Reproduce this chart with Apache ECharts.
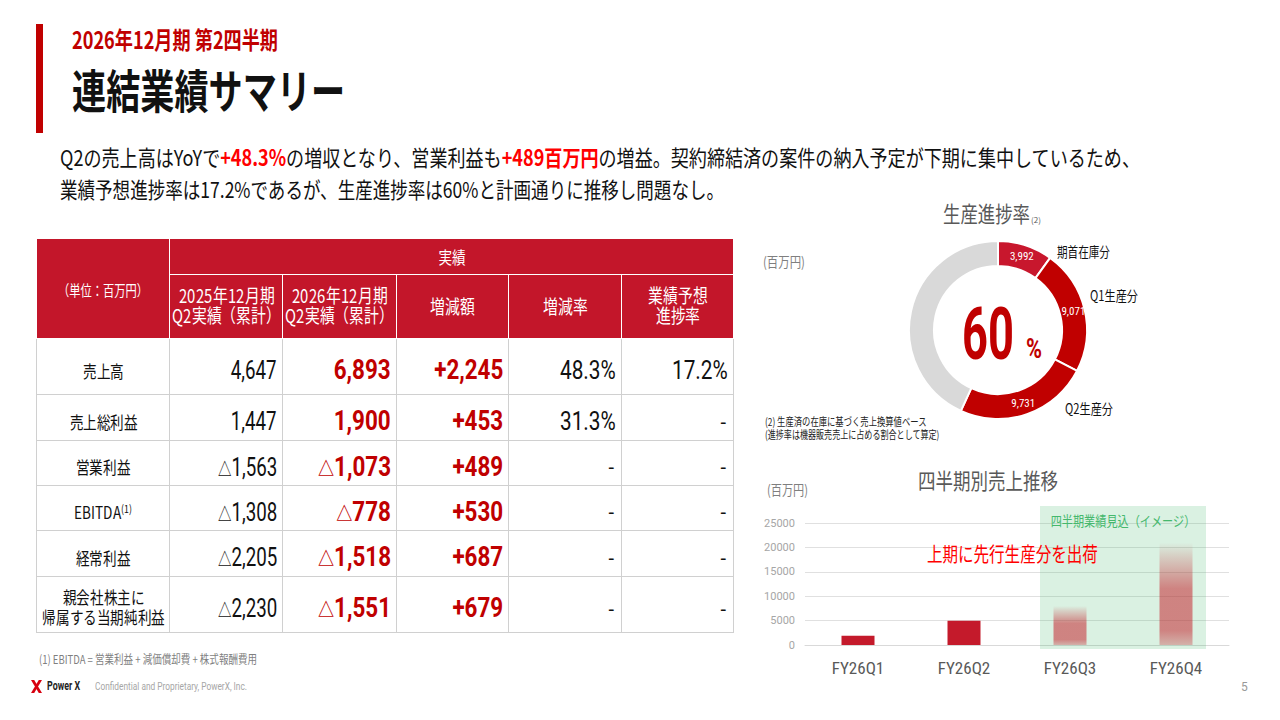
<!DOCTYPE html>
<html lang="ja"><head><meta charset="utf-8"><title>連結業績サマリー</title>
<script src="https://cdn.jsdelivr.net/npm/echarts@6.0.0/dist/echarts.min.js"></script>
<style>
@font-face{font-family:'JPTight';src:local('Noto Sans CJK JP Regular'),local('NotoSansCJKjp-Regular'),local('Noto Sans CJK JP');ascent-override:88%;descent-override:12%;line-gap-override:0%;}
html,body{margin:0;padding:0;background:#fff;}
body{width:1280px;height:720px;position:relative;overflow:hidden;font-family:'Noto Sans CJK JP','Noto Sans',sans-serif;color:#111;}
#chart{position:absolute;left:0;top:0;width:1280px;height:720px;}
.t{position:absolute;white-space:nowrap;line-height:1;transform-origin:0 50%;}
.hl{color:#ff0000;font-weight:700;}
#redbar{position:absolute;left:36px;top:24px;width:7px;height:109px;background:#c00000;}
table{position:absolute;left:36px;top:238px;width:697px;border-collapse:collapse;table-layout:fixed;}
th{background:#c3162a;color:#fff;border:1px solid #fff;font-weight:400;padding:0;text-align:center;vertical-align:middle;}
td{border:1px solid #d0d0d0;padding:8px 5px 0 0;vertical-align:middle;text-align:right;background:#fff;}
td.lab{text-align:center;padding:8px 0 0 0;}
.s{display:inline-block;white-space:nowrap;line-height:20px;}
.hd{font-family:'JPTight','Noto Sans CJK JP',sans-serif;font-size:19px;transform:scaleX(.78);transform-origin:50% 50%;margin:0 -40px;}
.hd1{font-size:17px;transform:scaleX(.8);transform-origin:50% 50%;}
.unit{font-size:15px;transform:scaleX(.75);transform-origin:50% 50%;margin:0 -40px;}
.lb{font-family:'JPTight','Noto Sans CJK JP',sans-serif;font-size:17px;transform:scaleX(.8);transform-origin:50% 50%;color:#111;margin:0 -40px;}
.lb sup{font-size:11px;vertical-align:6px;line-height:0;}
.n{font-family:Roboto,sans-serif;font-size:26px;line-height:26px;transform:scaleX(.72);transform-origin:100% 50%;color:#111;}
.nb{font-family:Roboto,sans-serif;font-weight:700;font-size:27px;line-height:26px;color:#c00000;transform:scaleX(.83);transform-origin:100% 50%;}
.pc{font-family:Roboto,sans-serif;font-size:26px;line-height:26px;transform:scaleX(.8);transform-origin:100% 50%;color:#111;}
.dash{font-family:Roboto,sans-serif;font-size:20px;line-height:20px;padding-right:2px;color:#111;}
.tri{font-family:'Noto Sans CJK JP',sans-serif;font-size:.72em;}
</style></head>
<body>
<div id="chart"></div>
<div id="redbar"></div>
<div class="t fit" data-w="206" style="left:72px;top:27px;font-size:24px;font-weight:700;color:#c00000;" id="subtitle"></div>
<div class="t fit" data-w="273" style="left:72px;top:65px;font-size:46px;font-weight:700;color:#111;" id="title"></div>
<div class="t fit" data-w="1080" style="left:60px;top:145px;font-size:22px;color:#111;">Q2の売上高はYoYで<span class="hl">+48.3%</span>の増収となり、営業利益も<span class="hl">+489百万円</span>の増益。契約締結済の案件の納入予定が下期に集中しているため、</div>
<div class="t fit" data-w="664" style="left:60px;top:177px;font-size:22px;color:#111;">業績予想進捗率は17.2%であるが、生産進捗率は60%と計画通りに推移し問題なし。</div>
<table id="tbl"></table>
<div class="t fit" data-w="218" style="left:39px;top:653px;font-size:12px;color:#7f7f7f;">(1) EBITDA = 営業利益 + 減価償却費 + 株式報酬費用</div>
<svg style="position:absolute;left:30px;top:680px;" width="13" height="13" viewBox="0 0 13 13"><path d="M1 0 L4.2 0 L12 13 L8.8 13 Z" fill="#d7000f"/><path d="M12 0 L8.8 0 L1 13 L4.2 13 Z" fill="#d7000f"/></svg>
<div class="t fit" data-w="33" style="left:47px;top:680px;font-size:12px;font-weight:700;color:#222;font-family:Roboto,sans-serif;">Power X</div>
<div class="t fit" data-w="152" style="left:95px;top:681px;font-size:11px;color:#a6a6a6;font-family:Roboto,sans-serif;">Confidential and Proprietary, PowerX, Inc.</div>
<div class="t" style="left:1241px;top:681px;font-size:12px;color:#999;font-family:Roboto,sans-serif;">5</div>
<script>
// ---------------- data ----------------
const slideSubtitle = '2026年12月期 第2四半期';
const slideTitle = '連結業績サマリー';
const unitLabel = '（単位：百万円）';
const groupHeader = '実績';
const tableColumns = ['2025年12月期\nQ2実績（累計）', '2026年12月期\nQ2実績（累計）', '増減額', '増減率', '業績予想\n進捗率'];
const tableRows = ['売上高', '売上総利益', '営業利益', 'EBITDA', '経常利益', '親会社株主に\n帰属する当期純利益'];
const rowNotes = ['', '', '', '(1)', '', ''];
const prevYearValues = ['4,647', '1,447', '△1,563', '△1,308', '△2,205', '△2,230'];
const currYearValues = ['6,893', '1,900', '△1,073', '△778', '△1,518', '△1,551'];
const changeValues = ['+2,245', '+453', '+489', '+530', '+687', '+679'];
const changeRates = ['48.3%', '31.3%', '-', '-', '-', '-'];
const forecastProgress = ['17.2%', '-', '-', '-', '-', '-'];

const progressNames = ['期首在庫分', 'Q1生産分', 'Q2生産分', '未生産'];
const progressValues = [3992, 9071, 9731, 17300];
const progressRate = '60';

const quarters = ['FY26Q1', 'FY26Q2', 'FY26Q3', 'FY26Q4'];
const quarterSales = [1900, 4993, 8000, 21000];
const salesTicks = [0, 5000, 10000, 15000, 20000, 25000];
const forecastFrom = 2; // index from which quarters are forecast (image)

// ---------------- slide text ----------------
document.getElementById('subtitle').textContent = slideSubtitle;
document.getElementById('title').textContent = slideTitle;

// ---------------- table ----------------
function cellNum(s, cls) {
  if (s === '-') return '<span class="s dash">-</span>';
  return '<span class="s ' + cls + '">' + s.replace('△', '<span class="tri">△</span>') + '</span>';
}
const colWidths = [133, 113, 114, 112, 113, 112];
const rowHeights = [56, 46, 45, 45, 46, 56];
let h = '<colgroup>' + colWidths.map(w => '<col style="width:' + w + 'px">').join('') + '</colgroup>';
h += '<tr style="height:36px"><th rowspan="2"><span class="s unit">' + unitLabel + '</span></th><th colspan="5"><span class="s hd1">' + groupHeader + '</span></th></tr>';
h += '<tr style="height:64px">' + tableColumns.map(c => '<th><span class="s hd">' + c.replace('\n', '<br>') + '</span></th>').join('') + '</tr>';
tableRows.forEach((r, i) => {
  h += '<tr style="height:' + rowHeights[i] + 'px">';
  h += '<td class="lab"><span class="s lb">' + r.replace('\n', '<br>') + (rowNotes[i] ? '<sup>' + rowNotes[i] + '</sup>' : '') + '</span></td>';
  h += '<td>' + cellNum(prevYearValues[i], 'n') + '</td>';
  h += '<td>' + cellNum(currYearValues[i], 'nb') + '</td>';
  h += '<td>' + cellNum(changeValues[i], 'nb') + '</td>';
  h += '<td>' + cellNum(changeRates[i], 'pc') + '</td>';
  h += '<td>' + cellNum(forecastProgress[i], 'pc') + '</td>';
  h += '</tr>';
});
document.getElementById('tbl').innerHTML = h;

function fitAll() {
  document.querySelectorAll('.fit').forEach(el => {
    el.style.transform = 'none';
    const w = el.getBoundingClientRect().width;
    if (w > 0) el.style.transform = 'scaleX(' + (parseFloat(el.dataset.w) / w) + ')';
  });
}
fitAll();
if (document.fonts && document.fonts.ready) document.fonts.ready.then(fitAll);

// ---------------- charts ----------------
const mctx = document.createElement('canvas').getContext('2d');
function gtext(text, x, y, font, fill, targetW, align, z) {
  mctx.font = font;
  const sx = targetW ? targetW / mctx.measureText(text).width : 1;
  return {
    type: 'text', x: x, y: y, scaleX: sx, z: z || 10, silent: true,
    style: { text: text, font: font, fill: fill, align: align || 'left', verticalAlign: 'middle', textAlign: align || 'left', textVerticalAlign: 'middle' }
  };
}
const JP = "'Noto Sans CJK JP', sans-serif";
const NARROW = "'Liberation Sans Narrow','Roboto Condensed',Roboto,sans-serif";
const pieColors = ['#c8172d', '#c00000', '#c00000', '#d9d9d9'];
const barRed = '#c41a2b';
const forecastGradient = new echarts.graphic.LinearGradient(0, 0, 0, 1, [
  { offset: 0, color: 'rgba(196,30,40,0)' },
  { offset: 0.12, color: 'rgba(196,30,40,0.15)' },
  { offset: 0.45, color: 'rgba(196,30,40,0.52)' },
  { offset: 0.86, color: 'rgba(196,30,40,0.52)' },
  { offset: 1, color: 'rgba(196,30,40,0.3)' }
]);

const chart = echarts.init(document.getElementById('chart'), null, { renderer: 'svg', width: 1280, height: 720 });
const pieCenter = [998, 330];
const option = {
  animation: false,
  grid: { left: 805, right: 51, top: 523, bottom: 75 },
  xAxis: {
    type: 'category', data: quarters,
    axisLine: { lineStyle: { color: '#d9d9d9', width: 1 } },
    axisTick: { show: false },
    axisLabel: { color: '#595959', fontSize: 17, margin: 14, fontFamily: NARROW }
  },
  yAxis: {
    type: 'value', min: salesTicks[0], max: salesTicks[salesTicks.length - 1], interval: salesTicks[1] - salesTicks[0],
    axisLine: { show: false }, axisTick: { show: false },
    axisLabel: { color: '#a6a6a6', fontSize: 11, margin: 10, fontFamily: 'Roboto,sans-serif', formatter: v => String(v) },
    splitLine: { lineStyle: { color: '#e0e0e0', width: 1 } }
  },
  series: [
    {
      type: 'bar', barWidth: 33, z: 3, silent: true,
      data: quarterSales.map((v, i) => ({ value: v, itemStyle: { color: i < forecastFrom ? barRed : forecastGradient } }))
    },
    {
      type: 'pie', center: pieCenter, radius: [64, 89], startAngle: 90, clockwise: true, silent: true,
      itemStyle: { borderColor: '#fff', borderWidth: 2 },
      label: { show: false }, labelLine: { show: false },
      emphasis: { disabled: true },
      data: progressNames.map((n, i) => ({ name: n, value: progressValues[i], itemStyle: { color: pieColors[i] } }))
    },
    {
      // transparent companion pie: carries the value labels inside the ring
      type: 'pie', center: pieCenter, radius: [0, 149], startAngle: 90, clockwise: true, silent: true, z: 5,
      itemStyle: { color: 'rgba(0,0,0,0)', borderWidth: 0 },
      label: { position: 'inside', color: '#fff', fontSize: 11, fontFamily: NARROW, formatter: p => p.value.toLocaleString('en-US') },
      labelLine: { show: false },
      emphasis: { disabled: true },
      data: progressNames.map((n, i) => ({ name: n, value: progressValues[i], label: { show: i < 3 } }))
    }
  ]
};
chart.setOption(option);

const xQ3 = chart.convertToPixel({ xAxisIndex: 0 }, quarters[forecastFrom]);
const xQ4 = chart.convertToPixel({ xAxisIndex: 0 }, quarters[quarters.length - 1]);
const yTop = chart.convertToPixel({ yAxisIndex: 0 }, salesTicks[salesTicks.length - 1]);
const yZero = chart.convertToPixel({ yAxisIndex: 0 }, salesTicks[0]);

const graphics = [
  { type: 'rect', z: 1, silent: true, shape: { x: xQ3 - 30, y: yTop - 17, width: xQ4 - xQ3 + 60, height: yZero - yTop + 21 }, style: { fill: 'rgba(70,185,110,0.2)' } },
  gtext('四半期業績見込（イメージ）', (xQ3 + xQ4) / 2, 520, '14px ' + JP, '#45b86d', 145, 'center'),
  gtext('上期に先行生産分を出荷', 927, 553, '20px ' + JP, '#ff0000', 171, 'left'),
  gtext('四半期別売上推移', 988, 480, '22px ' + JP, '#595959', 140, 'center'),
  gtext('(百万円)', 767, 489, '14px ' + JP, '#7f7f7f', 41, 'left'),
  // donut
  gtext('生産進捗率', 943, 213, '22px ' + JP, '#595959', 87, 'left'),
  gtext('(2)', 1031, 219, '8px ' + JP, '#595959', 0, 'left'),
  gtext('(百万円)', 763, 261, '14px ' + JP, '#7f7f7f', 42, 'left'),
  gtext(progressNames[0], 1057, 251, '14px ' + JP, '#111', 53, 'left'),
  gtext(progressNames[1], 1090, 295, '14px ' + JP, '#111', 48, 'left'),
  gtext(progressNames[2], 1065, 408, '14px ' + JP, '#111', 48, 'left'),
  gtext(progressRate, 988, 334, '700 72px Roboto,sans-serif', '#c00000', 52, 'center'),
  gtext('%', 1034, 348, '700 28px Roboto,sans-serif', '#c00000', 16, 'center'),
  gtext('(2) 生産済の在庫に基づく売上換算値ベース', 765, 421, '11px ' + JP, '#222', 162, 'left'),
  gtext('(進捗率は機器販売売上に占める割合として算定)', 765, 434, '11px ' + JP, '#222', 175, 'left')
];
chart.setOption({ graphic: { elements: graphics } });
</script>
</body></html>
